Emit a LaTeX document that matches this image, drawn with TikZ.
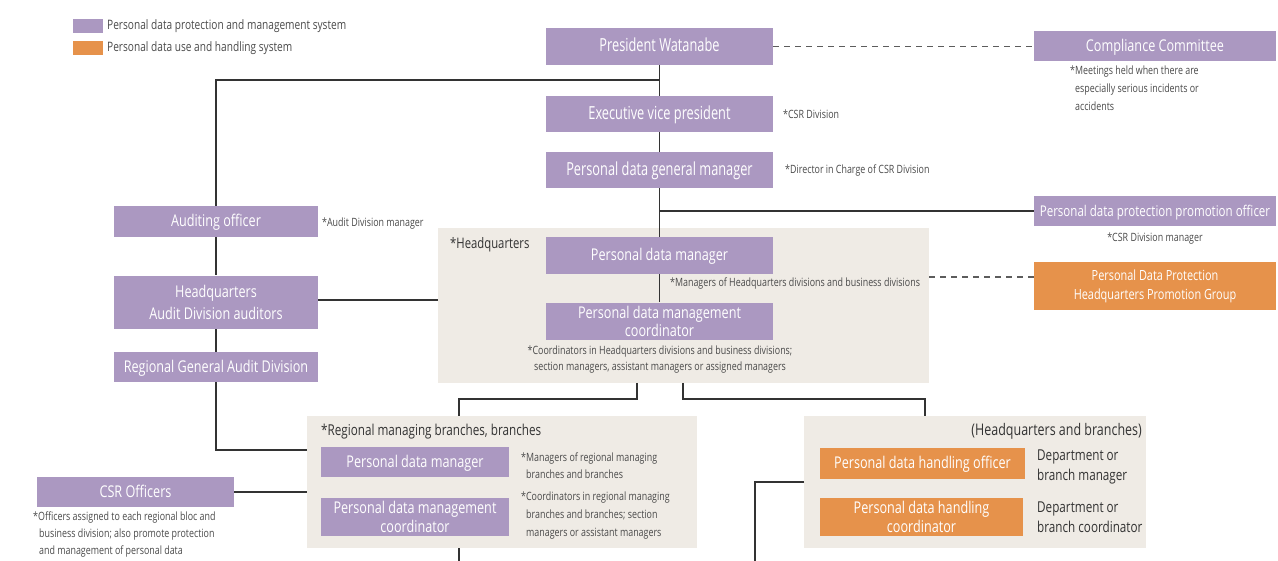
\documentclass[tikz,border=0pt]{standalone}
\usepackage{fontspec}
\setmainfont{Open Sans}[FakeStretch=0.78]
\newfontfamily\bigf{Open Sans}[FakeStretch=0.71]
\definecolor{purp}{HTML}{AB98C1}
\definecolor{orng}{HTML}{E6924B}
\definecolor{beige}{HTML}{EFEBE5}
\definecolor{notec}{HTML}{4A4A4A}
\definecolor{linec}{HTML}{333333}
\begin{document}
\begin{tikzpicture}[x=1pt,y=-1pt,
  pbox/.style={fill=purp,text=white,inner sep=0pt,align=center,font=\fontsize{16.2}{18.5}\selectfont},
  bigbox/.style={pbox,font=\bigf\fontsize{18}{20}\selectfont},
  one/.style={text height=1.2em,text depth=0.15em},
  obox/.style={pbox,fill=orng},
  bg/.style={fill=beige,draw=none},
  note/.style={text=notec,inner sep=0pt,align=left,font=\fontsize{11.4}{18}\selectfont},
  dark/.style={text=linec,inner sep=0pt,font=\fontsize{15}{19.5}\selectfont},
  conn/.style={draw=linec,line width=1.1pt},
  dconn/.style={draw=linec!80,line width=1.1pt,dash pattern=on 6pt off 5pt}]
\useasboundingbox (0,0) rectangle (1278,561);
% legend
\node[fill=purp,minimum width=30pt,minimum height=14pt,inner sep=0pt] (lg1) at (88,26) {};
\node[note,anchor=west,font=\fontsize{13}{14}\selectfont] (lt1) at (107,26) {Personal data protection and management system};
\node[fill=orng,minimum width=30pt,minimum height=14pt,inner sep=0pt] (lg2) at (88,48) {};
\node[note,anchor=west,font=\fontsize{13}{14}\selectfont] (lt2) at (107,48) {Personal data use and handling system};
% backgrounds
\node[bg,minimum width=491pt,minimum height=155pt,inner sep=0pt] (hqbg) at (683.5,305.5) {};
\node[bg,minimum width=390pt,minimum height=132pt,inner sep=0pt] (regbg) at (502,482) {};
\node[bg,minimum width=342pt,minimum height=132pt,inner sep=0pt] (rbg) at (975,482) {};
% coordinates
\coordinate (j1) at (659.5,80);
\coordinate (j2) at (659.5,211);
\coordinate (hqw) at (438,300);
\coordinate (hqe) at (929,277);
\coordinate (hqb1) at (637,383);
\coordinate (hqb2) at (683,383);
\coordinate (regt) at (459,416);
\coordinate (rbgt) at (925,416);
\coordinate (regw1) at (307,450);
\coordinate (regw2) at (307,492);
\coordinate (regb) at (459,548);
\coordinate (regend) at (459,561);
\coordinate (rbgw) at (804,482);
\coordinate (rend) at (755,561);
% main connectors (behind boxes)
\draw[conn] (659.5,65) -- (659.5,237);
\draw[conn] (j1) -| (216,206);
\draw[conn] (216,237) -- (216,275);
\draw[conn] (216,328) -- (216,352);
\draw[conn] (216,382) |- (regw1);
\draw[conn] (j2) -- (1034,211);
\draw[conn] (318,300) -- (hqw);
\draw[conn] (hqb1) -- (637,399) -| (regt);
\draw[conn] (hqb2) -- (683,399) -| (rbgt);
\draw[conn] (234,492) -- (regw2);
\draw[conn] (regb) -- (regend);
\draw[conn] (rbgw) -| (rend);
\draw[conn] (659.5,274) -- (659.5,302);
% boxes
\node[bigbox,one,minimum width=227pt,minimum height=37pt] (pres) at (659.5,46.5) {President Watanabe};
\node[pbox,one,minimum width=242pt,minimum height=30pt] (comp) at (1155,46) {Compliance Committee};
\node[bigbox,one,minimum width=227pt,minimum height=36pt] (evp) at (659.5,114) {Executive vice president};
\node[bigbox,one,minimum width=227pt,minimum height=36pt] (gm) at (659.5,170) {Personal data general manager};
\node[pbox,one,minimum width=242pt,minimum height=30pt,font=\fontsize{14.8}{17}\selectfont] (ppo) at (1155,211) {Personal data protection promotion officer};
\node[pbox,one,minimum width=204pt,minimum height=31pt] (ao) at (216,221.5) {Auditing officer};
\node[pbox,minimum width=204pt,minimum height=53pt,font=\fontsize{16.2}{22}\selectfont] (hqaud) at (216,302.5) {Headquarters\\Audit Division auditors};
\node[pbox,one,minimum width=204pt,minimum height=30pt] (rgad) at (216,367) {Regional General Audit Division};
\node[pbox,one,minimum width=227pt,minimum height=37pt] (pdm) at (659.5,255.5) {Personal data manager};
\node[pbox,minimum width=227pt,minimum height=37pt] (pdmc) at (659.5,321.5) {Personal data management\\coordinator};
\node[obox,minimum width=242pt,minimum height=48pt,font=\fontsize{14}{19}\selectfont] (grp) at (1155,286) {Personal Data Protection\\Headquarters Promotion Group};
\node[pbox,one,minimum width=188pt,minimum height=30pt] (rpdm) at (415,462) {Personal data manager};
\node[pbox,minimum width=188pt,minimum height=38pt] (rpdmc) at (415,517) {Personal data management\\coordinator};
\node[pbox,one,minimum width=197pt,minimum height=30pt] (csr) at (135.5,492) {CSR Officers};
\node[obox,one,minimum width=205pt,minimum height=31pt] (pdho) at (922.5,463.5) {Personal data handling officer};
\node[obox,minimum width=203pt,minimum height=38pt] (pdhc) at (921.5,517) {Personal data handling\\coordinator};
% dashed connectors
\draw[dconn] (pres.east) -- (pres.east -| comp.west);
\draw[dconn] (hqe) -- (hqe -| grp.west);
% notes
\node[note,anchor=north west] (n1) at (1070,66) {*Meetings held when there are\\\hspace{5pt}especially serious incidents or\\\hspace{5pt}accidents};
\node[note,anchor=west] (n2) at (783,114) {*CSR Division};
\node[note,anchor=west] (n3) at (785,171) {*Director in Charge of CSR Division};
\node[note,anchor=west] (n4) at (322,224) {*Audit Division manager};
\node[note,anchor=center] (n5) at (1155,239) {*CSR Division manager};
\node[dark,anchor=west,font=\fontsize{14.5}{16}\selectfont] (hqt) at (450,245) {*Headquarters};
\node[note,anchor=west] (n6) at (670,284) {*Managers of Headquarters divisions and business divisions};
\node[note,anchor=north,align=center,font=\fontsize{11.4}{16}\selectfont] (n7) at (660,346) {*Coordinators in Headquarters divisions and business divisions;\\section managers, assistant managers or assigned managers};
\node[dark,anchor=west] (regt2) at (321,432) {*Regional managing branches, branches};
\node[note,anchor=north west,font=\fontsize{11.4}{17}\selectfont] (n8) at (521,453) {*Managers of regional managing\\\hspace{5pt}branches and branches};
\node[note,anchor=north west,font=\fontsize{11.4}{18}\selectfont] (n9) at (521,492) {*Coordinators in regional managing\\\hspace{5pt}branches and branches; section\\\hspace{5pt}managers or assistant managers};
\node[note,anchor=north west,font=\fontsize{11.4}{17}\selectfont] (n10) at (33,512) {*Officers assigned to each regional bloc and\\\hspace{6pt}business division; also promote protection\\\hspace{6pt}and management of personal data};
\node[dark,anchor=east,font=\fontsize{16}{19}\selectfont] (rbt) at (1142,431) {(Headquarters and branches)};
\node[dark,anchor=north west,align=left] (d1) at (1037,450) {Department or\\branch manager};
\node[dark,anchor=north west,align=left] (d2) at (1037,502) {Department or\\branch coordinator};
\end{tikzpicture}
\end{document}
